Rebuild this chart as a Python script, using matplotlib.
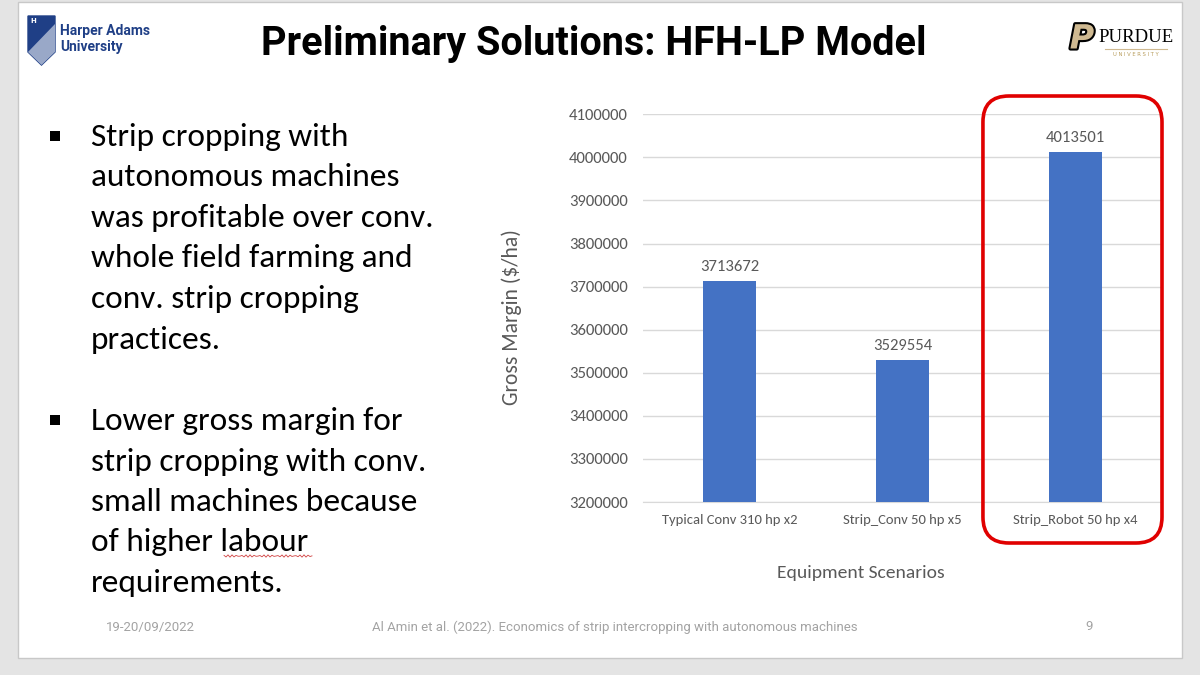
import numpy as np
import matplotlib
matplotlib.use("Agg")
import matplotlib.pyplot as plt
import matplotlib.patches as mpatches
import matplotlib.patheffects as pe
from matplotlib import font_manager

# chart data
scenarios = ["Typical Conv 310 hp x2", "Strip_Conv 50 hp x5", "Strip_Robot 50 hp x4"]
gross_margin = [3713672, 3529554, 4013501]
y_ticks = [3200000, 3300000, 3400000, 3500000, 3600000, 3700000, 3800000, 3900000, 4000000, 4100000]

title = "Preliminary Solutions: HFH-LP Model"
bullet1 = ["Strip cropping with", "autonomous machines", "was profitable over conv.",
           "whole field farming and", "conv. strip cropping", "practices."]
bullet2 = ["Lower gross margin for", "strip cropping with conv.", "small machines because",
           "of higher labour", "requirements."]
footer_date = "19-20/09/2022"
footer_ref = "Al Amin et al. (2022). Economics of strip intercropping with autonomous machines"
footer_page = "9"

BAR = "#4472c4"
GREY_TXT = "#595959"
GRID = "#d9d9d9"

installed = {f.name for f in font_manager.fontManager.ttflist}
def pick(*names):
    for n in names:
        if n in installed:
            return n
    return "DejaVu Sans"

BODY = pick("Carlito", "Lato", "Open Sans")
NARROW = pick("Liberation Sans Narrow", "Roboto", "Liberation Sans")
CHART = pick("Carlito", "Open Sans", "Lato")

fig = plt.figure(figsize=(12, 6.75), dpi=100)
fig.patch.set_facecolor("#e4e4e4")

# background axes in pixel coordinates (1 unit = 1 px)
bg = fig.add_axes([0, 0, 1, 1], zorder=0)
bg.set_xlim(0, 1200)
bg.set_ylim(675, 0)
bg.axis("off")
bg.add_patch(mpatches.Rectangle((18, 2), 1164, 656, facecolor="white",
                                edgecolor="#c8c8c8", lw=1))

# title
bg.text(594, 44, title, ha="center", va="center", fontsize=28.5, fontweight="bold",
        family=NARROW, color="black")

# Harper Adams logo (simplified)
shield = mpatches.Polygon([(28, 16), (55, 16), (55, 52), (41.5, 65), (28, 52)],
                          closed=True, facecolor="#1f3f86", edgecolor="#1f3f86")
bg.add_patch(shield)
bg.add_patch(mpatches.Polygon([(28, 52), (55, 24), (55, 52), (41.5, 65)],
                              closed=True, facecolor="white", alpha=0.55, lw=0))
bg.text(30, 21, "H", fontsize=5, color="white", fontweight="bold", va="center")
bg.text(60, 31, "Harper Adams", fontsize=10, fontweight="bold", color="#1f3f86",
        family=NARROW, va="center")
bg.text(60, 47, "University", fontsize=10, fontweight="bold", color="#1f3f86",
        family=NARROW, va="center")

# Purdue logo (simplified)
bg.text(1082, 39, "P", fontsize=24, fontweight="bold", fontstyle="italic",
        family="DejaVu Sans", color="#cfb991", ha="center", va="center",
        path_effects=[pe.withStroke(linewidth=3, foreground="black")])
bg.text(1136, 37, "PURDUE", fontsize=13.5, family="Liberation Serif", color="black",
        ha="center", va="center")
bg.plot([1105, 1167], [49, 49], color="#cfb991", lw=0.8)
bg.text(1136, 55, "U N I V E R S I T Y", fontsize=3.8, family="DejaVu Sans",
        color="#b89d5c", ha="center", va="center")

# bullets
def bullets(lines, y0, step=40.5):
    bg.add_patch(mpatches.Rectangle((50, y0 - 6), 10, 10, facecolor="black", lw=0))
    for i, line in enumerate(lines):
        bg.text(91, y0 + i * step, line, fontsize=24, family=BODY, color="black",
                va="center", ha="left")

bullets(bullet1, 137)
bullets(bullet2, 421)

# spell-check squiggle under "labour"
sx = np.linspace(224, 312, 45)
bg.plot(sx, 556 + 1.2 * np.sin(sx * 1.4), color="#d04040", lw=0.6)

# footer
bg.text(106, 627, footer_date, fontsize=9.5, family=NARROW, color="#a3a3a3", va="center")
bg.text(615, 627, footer_ref, fontsize=9.5, family=NARROW, color="#a3a3a3",
        va="center", ha="center")
bg.text(1089, 627, footer_page, fontsize=9.5, family=NARROW, color="#a3a3a3",
        va="center", ha="center")

# chart
ax = fig.add_axes([643 / 1200, 1 - 502 / 675, 519 / 1200, (502 - 114.3) / 675], zorder=2)
ax.patch.set_alpha(0)
x = np.arange(len(scenarios))
bars = ax.bar(x, gross_margin, width=0.306, color=BAR, zorder=3)
ax.set_xlim(-0.5, len(scenarios) - 0.5)
ax.set_ylim(y_ticks[0], y_ticks[-1])
ax.set_yticks(y_ticks)
ax.set_yticklabels([str(t) for t in y_ticks], family=CHART, fontsize=12, color=GREY_TXT)
ax.set_xticks(x)
ax.set_xticklabels(scenarios, family=CHART, fontsize=10.5, color=GREY_TXT)
ax.tick_params(axis="y", length=0, pad=11)
ax.tick_params(axis="x", length=0, pad=9)
ax.grid(axis="y", color=GRID, lw=1, zorder=0)
for s in ["top", "right", "left"]:
    ax.spines[s].set_visible(False)
ax.spines["bottom"].set_color(GRID)
for xi, v in zip(x, gross_margin):
    ax.annotate(str(v), (xi, v), xytext=(0, 5), textcoords="offset points",
                ha="center", va="bottom", family=CHART, fontsize=12, color=GREY_TXT)

# axis titles, centred on the whole chart block as in the source slide
bg.text(512, 317, "Gross Margin ($/ha)", rotation=90, ha="center", va="center",
        family=CHART, fontsize=15.5, color=GREY_TXT)
bg.text(861, 573, "Equipment Scenarios", ha="center", va="center",
        family=CHART, fontsize=14, color=GREY_TXT)

# red highlight box around the robot scenario, placed from the bar's data position
fg = fig.add_axes([0, 0, 1, 1], zorder=5)
fg.set_xlim(0, 1200)
fg.set_ylim(675, 0)
fg.axis("off")
fg.patch.set_alpha(0)
left_px = ax.transData.transform((x[2] - 0.535, y_ticks[0]))[0]
right_px = ax.transData.transform((x[2] + 0.5, y_ticks[0]))[0]
top_px, bot_px = 96, 543
fg.add_patch(mpatches.FancyBboxPatch((left_px, top_px), right_px - left_px, bot_px - top_px,
                                     boxstyle="round,pad=0,rounding_size=26",
                                     facecolor="none", edgecolor="#e00000", lw=2.6))

fig.savefig("out.png", dpi=100, facecolor=fig.get_facecolor())
